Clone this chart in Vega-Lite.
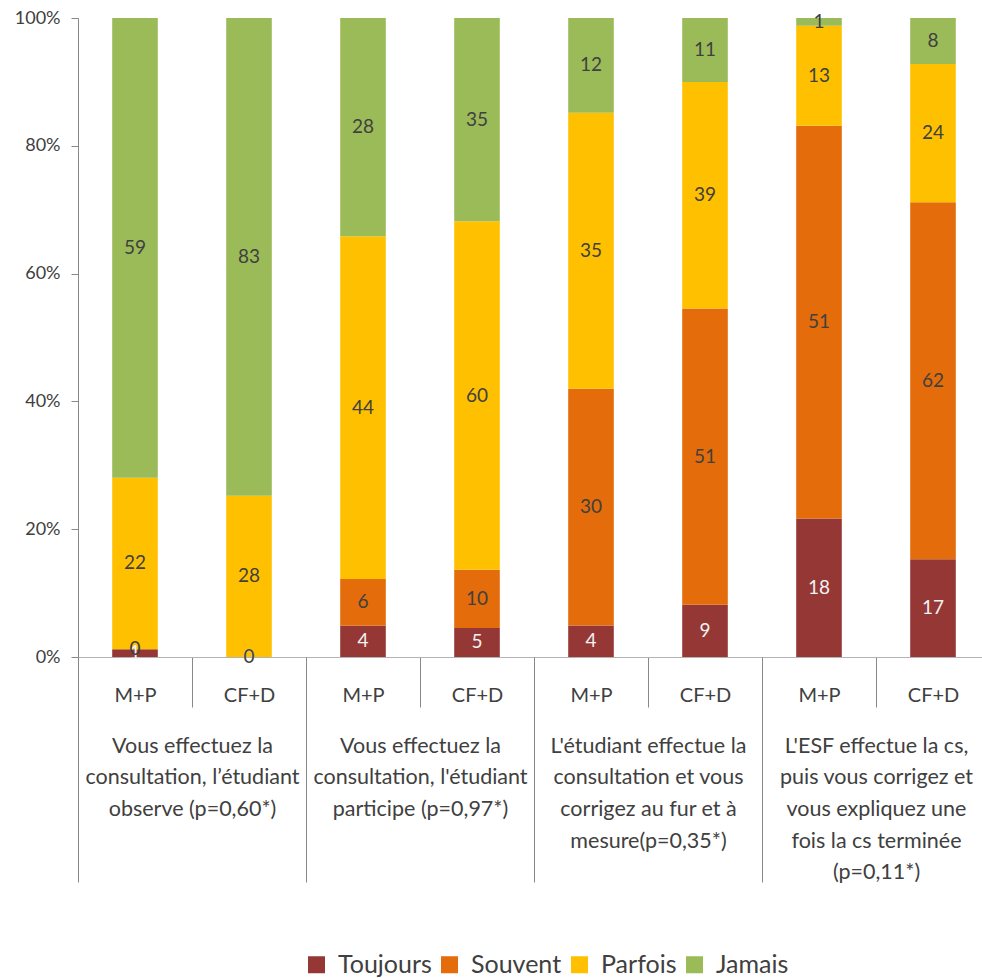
{
  "$schema": "https://vega.github.io/schema/vega-lite/v6.json",
  "autosize": {"type": "none"},
  "padding": {"left": 78, "top": 18, "right": 0, "bottom": 321},
  "width": 904,
  "height": 639,
  "background": "white",
  "config": {"font": "Lato", "view": {"stroke": null}},
  "layer": [
    {
      "data": {"values": [
        {"bar": "1|M+P", "cat": "Toujours", "k": 1, "n": 1},
        {"bar": "1|M+P", "cat": "Souvent", "k": 2, "n": 0},
        {"bar": "1|M+P", "cat": "Parfois", "k": 3, "n": 22},
        {"bar": "1|M+P", "cat": "Jamais", "k": 4, "n": 59},
        {"bar": "1|CF+D", "cat": "Toujours", "k": 1, "n": 0},
        {"bar": "1|CF+D", "cat": "Souvent", "k": 2, "n": 0},
        {"bar": "1|CF+D", "cat": "Parfois", "k": 3, "n": 28},
        {"bar": "1|CF+D", "cat": "Jamais", "k": 4, "n": 83},
        {"bar": "2|M+P", "cat": "Toujours", "k": 1, "n": 4},
        {"bar": "2|M+P", "cat": "Souvent", "k": 2, "n": 6},
        {"bar": "2|M+P", "cat": "Parfois", "k": 3, "n": 44},
        {"bar": "2|M+P", "cat": "Jamais", "k": 4, "n": 28},
        {"bar": "2|CF+D", "cat": "Toujours", "k": 1, "n": 5},
        {"bar": "2|CF+D", "cat": "Souvent", "k": 2, "n": 10},
        {"bar": "2|CF+D", "cat": "Parfois", "k": 3, "n": 60},
        {"bar": "2|CF+D", "cat": "Jamais", "k": 4, "n": 35},
        {"bar": "3|M+P", "cat": "Toujours", "k": 1, "n": 4},
        {"bar": "3|M+P", "cat": "Souvent", "k": 2, "n": 30},
        {"bar": "3|M+P", "cat": "Parfois", "k": 3, "n": 35},
        {"bar": "3|M+P", "cat": "Jamais", "k": 4, "n": 12},
        {"bar": "3|CF+D", "cat": "Toujours", "k": 1, "n": 9},
        {"bar": "3|CF+D", "cat": "Souvent", "k": 2, "n": 51},
        {"bar": "3|CF+D", "cat": "Parfois", "k": 3, "n": 39},
        {"bar": "3|CF+D", "cat": "Jamais", "k": 4, "n": 11},
        {"bar": "4|M+P", "cat": "Toujours", "k": 1, "n": 18},
        {"bar": "4|M+P", "cat": "Souvent", "k": 2, "n": 51},
        {"bar": "4|M+P", "cat": "Parfois", "k": 3, "n": 13},
        {"bar": "4|M+P", "cat": "Jamais", "k": 4, "n": 1},
        {"bar": "4|CF+D", "cat": "Toujours", "k": 1, "n": 17},
        {"bar": "4|CF+D", "cat": "Souvent", "k": 2, "n": 62},
        {"bar": "4|CF+D", "cat": "Parfois", "k": 3, "n": 24},
        {"bar": "4|CF+D", "cat": "Jamais", "k": 4, "n": 8}
      ]},
      "encoding": {
        "x": {
          "field": "bar", "type": "nominal", "sort": null,
          "scale": {"type": "band", "range": [0, 912], "paddingInner": 0, "paddingOuter": 0},
          "axis": {
            "orient": "bottom", "title": null,
            "labelExpr": "split(datum.label, '|')[1]",
            "tickBand": "extent", "tickSize": 50, "tickColor": "#888888",
            "domainColor": "#B3B3B3", "labelFontSize": 20, "labelColor": "#404040",
            "labelBaseline": "middle", "labelPadding": -12, "labelAngle": 0,
            "labelLimit": 0, "labelOverlap": false
          }
        },
        "y": {
          "field": "n", "type": "quantitative", "stack": "normalize",
          "scale": {"domain": [0, 1]},
          "axis": {
            "title": null, "values": [0, 0.2, 0.4, 0.6, 0.8, 1], "format": ".0%",
            "grid": false, "tickSize": 7, "tickColor": "#888888", "domainColor": "#888888",
            "labelFontSize": 18, "labelColor": "#404040", "labelPadding": 11
          }
        },
        "order": {"field": "k", "type": "quantitative"}
      },
      "layer": [
        {
          "mark": {"type": "bar", "width": {"band": 0.4}},
          "encoding": {
            "color": {
              "field": "cat", "type": "nominal",
              "scale": {"domain": ["Toujours", "Souvent", "Parfois", "Jamais"], "range": ["#953735", "#E46C0A", "#FFC000", "#9BBB59"]},
              "legend": {
                "orient": "none", "legendX": 226, "legendY": 934, "direction": "horizontal",
                "title": null, "symbolType": "square", "symbolSize": 289, "symbolStrokeWidth": 0,
                "labelFontSize": 25, "labelColor": "#404040", "labelOffset": 9,
                "columnPadding": 5, "padding": 0
              }
            }
          }
        },
        {
          "mark": {"type": "text", "fontSize": 19, "baseline": "middle"},
          "encoding": {
            "y": {"field": "n", "type": "quantitative", "stack": "normalize", "bandPosition": 0.5},
            "detail": {"field": "cat", "type": "nominal"},
            "text": {"field": "n", "type": "quantitative"},
            "color": {"condition": {"test": "datum.cat === 'Toujours'", "value": "#F2F2F2"}, "value": "#404040"}
          }
        }
      ]
    },
    {
      "data": {"values": [
        {"group": "Vous effectuez la|consultation, l’étudiant|observe (p=0,60*)"},
        {"group": "Vous effectuez la|consultation, l'étudiant|participe (p=0,97*)"},
        {"group": "L'étudiant effectue la|consultation et vous|corrigez au fur et à|mesure(p=0,35*)"},
        {"group": "L'ESF effectue la cs,|puis vous corrigez et|vous expliquez une|fois la cs terminée|(p=0,11*)"}
      ]},
      "mark": {"type": "point", "opacity": 0},
      "encoding": {
        "x": {
          "field": "group", "type": "nominal", "sort": null,
          "scale": {"type": "band", "range": [0, 912], "paddingInner": 0, "paddingOuter": 0},
          "axis": {
            "orient": "bottom", "title": null, "domain": false,
            "labelExpr": "split(datum.label, '|')",
            "tickBand": "extent", "tickSize": 225, "tickColor": "#888888",
            "labelFontSize": 21.5, "labelLineHeight": 31.7, "labelColor": "#404040",
            "labelBaseline": "top", "labelPadding": -147, "labelAngle": 0,
            "labelLimit": 0, "labelOverlap": false
          }
        }
      }
    }
  ],
  "resolve": {"scale": {"x": "independent"}, "axis": {"x": "independent"}}
}
